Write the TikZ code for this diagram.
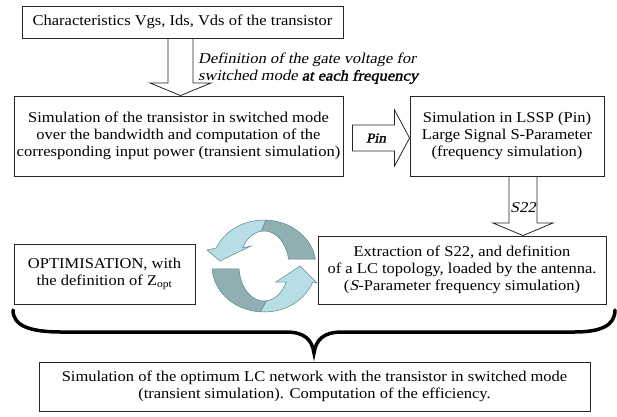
\documentclass[tikz,border=0pt]{standalone}
\usepackage{fontspec}
\setmainfont{Liberation Serif}[FakeStretch=1.1,
  ItalicFont={Liberation Serif},
  ItalicFeatures={FakeSlant=0.21},
  BoldItalicFont={Liberation Serif},
  BoldItalicFeatures={FakeSlant=0.21, FakeBold=1.6}]
\usetikzlibrary{calc}
\definecolor{cyanL}{HTML}{B7DEE4}
\definecolor{darkT}{HTML}{8FAFB3}
\definecolor{edgeC}{HTML}{5E8489}
\tikzset{
  txt/.style={font=\fontsize{15}{16.8}\selectfont},
  box/.style={txt, draw=black!85, line width=0.9pt, fill=white, align=center, inner sep=0pt},
  barrow/.style={draw=black!85, line width=0.8pt, fill=white, line join=miter},
  ribbon/.style={draw=edgeC, line width=0.5pt},
}
\begin{document}
\begin{tikzpicture}[x=1pt,y=-1pt]
\useasboundingbox (0,0) rectangle (617,416);

% boxes
\node[box, minimum width=321pt, minimum height=32pt] (b1) at (182.5,22) {Characteristics Vgs, Ids, Vds of the transistor};
\node[box, minimum width=329pt, minimum height=80pt] (b2) at (178.5,136) {Simulation of the transistor in switched mode\\over the bandwidth and computation of the\\corresponding input power (transient simulation)};
\node[box, minimum width=194pt, minimum height=80pt] (b3) at (507,136) {Simulation in LSSP (Pin)\\Large Signal S-Parameter\\(frequency simulation)};
\node[box, minimum width=288pt, minimum height=68pt] (b4) at (462,270) {Extraction of S22, and definition\\of a LC topology, loaded by the antenna.\\(\textit{S}-Parameter frequency simulation)};
\node[box, minimum width=181pt, minimum height=60pt] (b5) at (104.5,274) {OPTIMISATION, with\\the definition of Z\textsubscript{opt}};
\node[box, minimum width=551pt, minimum height=49pt] (b6) at (314.5,386.5) {Simulation of the optimum LC network with the transistor in switched mode\\(transient simulation). Computation of the efficiency.};

% arrow b1 -> b2
\draw[barrow] (168,0 |- b1.south) -- (168,83) -- (150,83) -- (180.5,0 |- b2.north) -- (211,83) -- (193,83) -- (193,0 |- b1.south) -- cycle;
\node[txt, anchor=west, align=left, inner sep=0pt] (lbl1) at (198,68.5) {\textit{Definition of the gate voltage for}\\\textit{switched mode \textbf{at each frequency}}};

% arrow b2 -> b3 (Pin)
\draw[barrow] ($(b2.east)+(9,-11)$) -- ($(b3.west)+(-15,-11)$) -- ($(b3.west)+(-15,-26)$) -- ($(b3.west)+(0,2)$) -- ($(b3.west)+(-15,30)$) -- ($(b3.west)+(-15,15)$) -- ($(b2.east)+(9,15)$) -- cycle;
\node[font=\fontsize{13.5}{15}\selectfont, inner sep=0pt] (lpin) at (376,138) {\textbf{\textit{Pin}}};

% arrow b3 -> b4 (S22)
\draw[barrow] (509,0 |- b3.south) -- (509,223) -- (493,223) -- (523,0 |- b4.north) -- (553,223) -- (537,223) -- (537,0 |- b3.south) -- cycle;
\node[txt, inner sep=0pt] (ls22) at (523,208) {\textit{S22}};

% circular arrows
\def\cx{264}\def\cy{266}
\path[ribbon, fill=darkT] plot[domain=88:8.7,samples=30] ({\cx+52*cos(\x)},{\cy-46*sin(\x)}) -- plot[domain=11.5:96,samples=30] ({\cx+25*cos(\x)},{\cy-35*sin(\x)}) -- cycle;
\path[ribbon, fill=cyanL] (242.6,248) -- (251,246) -- (220,261) -- (207,250) -- plot[domain=157:88,samples=30] ({\cx+52*cos(\x)},{\cy-46*sin(\x)}) -- plot[domain=96:149,samples=30] ({\cx+25*cos(\x)},{\cy-35*sin(\x)}) -- cycle;
\path[ribbon, fill=darkT] plot[domain=183.7:266,samples=30] ({\cx+52*cos(\x)},{\cy-46*sin(\x)}) -- plot[domain=276:184.9,samples=30] ({\cx+25*cos(\x)},{\cy-35*sin(\x)}) -- cycle;
\path[ribbon, fill=cyanL] plot[domain=266:339.6,samples=30] ({\cx+52*cos(\x)},{\cy-46*sin(\x)}) -- (317,283) -- (300,266) -- (276,282) -- plot[domain=332.8:276,samples=30] ({\cx+25*cos(\x)},{\cy-35*sin(\x)}) -- cycle;

% brace
\coordinate (brL) at (13,310);
\coordinate (brR) at (615,310);
\coordinate (brT) at (314,353);
\draw[line width=3.5pt, line cap=round] (brL) .. controls (13,326) and (30,332) .. (62,332) -- (286,332) .. controls (305,332) and (312,340) .. (brT) .. controls (316,340) and (323,332) .. (342,332) -- (574,332) .. controls (600,332) and (615,326) .. (brR);
\end{tikzpicture}
\end{document}
